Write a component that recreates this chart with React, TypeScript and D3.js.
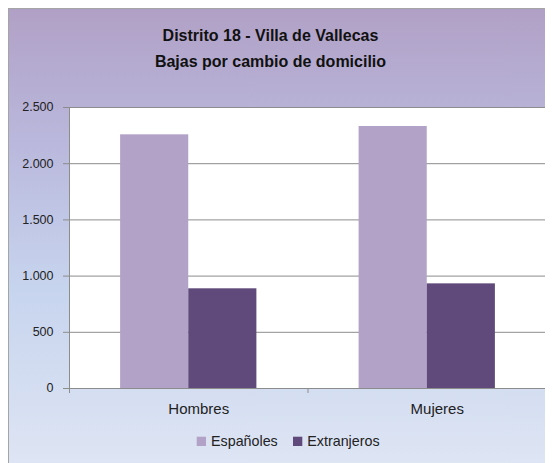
import React from "react";
import * as d3 from "d3";

const titleLines = ["Distrito 18 - Villa de Vallecas", "Bajas por cambio de domicilio"];
const categories = ["Hombres", "Mujeres"];
const series = ["Españoles", "Extranjeros"];
const espanoles = [2257, 2331];
const extranjeros = [887, 931];
const seriesColors = ["#b3a2c7", "#604a7b"];
const yTicks = [0, 500, 1000, 1500, 2000, 2500];

const W = 545;
const H = 455;
const plot = { left: 61, right: 538, top: 99, bottom: 380 };
const FONT = "'Liberation Sans', Arial, sans-serif";

export default function App() {
  const values = [espanoles, extranjeros];
  const x = d3.scaleBand<string>().domain(categories).range([plot.left, plot.right]);
  const inner = d3
    .scaleBand<string>()
    .domain(series)
    .range([0, x.bandwidth()])
    .paddingInner(0)
    .paddingOuter(0.75);
  const y = d3.scaleLinear().domain([0, 2500]).range([plot.bottom, plot.top]);
  const fmt = (v: number) => d3.format(",")(v).replace(/,/g, ".");

  const boundaries = [...categories.map((c) => x(c) as number), plot.right];

  return (
    <svg width={W} height={H} style={{ display: "block" }}>
      <defs>
        <linearGradient id="bg" x1="0" y1="0" x2="0" y2="1">
          <stop offset="0" stopColor="#b1a0c6" />
          <stop offset="0.3" stopColor="#bab9dd" />
          <stop offset="0.6" stopColor="#c7d4ee" />
          <stop offset="1" stopColor="#dfe6f4" />
        </linearGradient>
      </defs>
      <rect x={0.5} y={0.5} width={W + 10} height={H + 10} fill="url(#bg)" stroke="#a5a5a5" strokeWidth={1} />
      {titleLines.map((t, i) => (
        <text
          key={t}
          x={262.5}
          y={32.7 + i * 25.8}
          textAnchor="middle"
          fontFamily={FONT}
          fontWeight="bold"
          fontSize={16}
          fill="#111"
        >
          {t}
        </text>
      ))}
      <rect x={plot.left} y={plot.top} width={plot.right - plot.left} height={plot.bottom - plot.top} fill="#ffffff" />
      {yTicks.map((t) => (
        <g key={t}>
          {t > 0 && (
            <line x1={plot.left} x2={plot.right} y1={y(t) + 0.5} y2={y(t) + 0.5} stroke="#8c8c8c" strokeWidth={1} />
          )}
          <line x1={plot.left - 6} x2={plot.left} y1={y(t) + 0.5} y2={y(t) + 0.5} stroke="#8c8c8c" />
          <text
            x={45.5}
            y={y(t) + 4.3}
            textAnchor="end"
            fontFamily={FONT}
            fontSize={12.5}
            fill="#222"
          >
            {fmt(t)}
          </text>
        </g>
      ))}
      {categories.map((c, ci) =>
        series.map((s, si) => (
          <rect
            key={c + s}
            x={(x(c) as number) + (inner(s) as number)}
            y={y(values[si][ci])}
            width={inner.bandwidth()}
            height={plot.bottom - y(values[si][ci])}
            fill={seriesColors[si]}
          />
        ))
      )}
      <line x1={plot.left + 0.5} x2={plot.left + 0.5} y1={plot.top} y2={plot.bottom + 4} stroke="#8c8c8c" />
      <line x1={plot.left} x2={plot.right} y1={plot.bottom + 0.5} y2={plot.bottom + 0.5} stroke="#8c8c8c" />
      {boundaries.map((b, i) => (
        <line key={i} x1={b + 0.5} x2={b + 0.5} y1={plot.bottom} y2={plot.bottom + 5} stroke="#8c8c8c" />
      ))}
      {categories.map((c) => (
        <text
          key={c}
          x={(x(c) as number) + x.bandwidth() / 2 + 10.5}
          y={406.3}
          textAnchor="middle"
          fontFamily={FONT}
          fontSize={15}
          fill="#222"
        >
          {c}
        </text>
      ))}
      {series.map((s, i) => (
        <g key={s} transform={`translate(${188.7 + i * 96.3},0)`}>
          <rect x={0} y={428.7} width={9.3} height={9.3} fill={seriesColors[i]} />
          <text x={14.3} y={438} fontFamily={FONT} fontSize={14.3} fill="#222">
            {s}
          </text>
        </g>
      ))}
    </svg>
  );
}
